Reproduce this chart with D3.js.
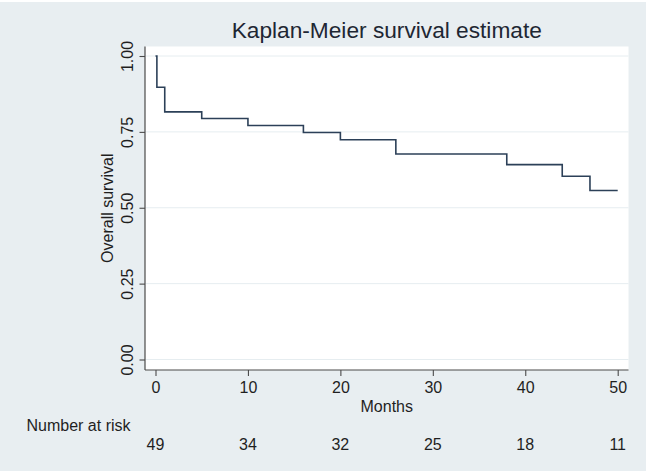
<!DOCTYPE html>
<html>
<head>
<meta charset="utf-8">
<script src="https://cdn.jsdelivr.net/npm/d3@7"></script>
<style>
  html, body { margin: 0; padding: 0; background: #ffffff; }
  svg { display: block; font-family: "Liberation Sans", Arial, Helvetica, sans-serif; }
</style>
</head>
<body>
<svg id="chart" width="650" height="475"></svg>
<script>
// ---- data ----
const eventTimes = [0, 0.15, 1, 5, 10, 16, 20, 26, 38, 44, 47];
const survival   = [1, 0.897, 0.816, 0.794, 0.771, 0.748, 0.724, 0.677, 0.642, 0.604, 0.557];
const endTime = 50;
const xTicks = [0, 10, 20, 30, 40, 50];
const yTicks = [0, 0.25, 0.5, 0.75, 1];
const atRisk = [49, 34, 32, 25, 18, 11];
const titleText = "Kaplan-Meier survival estimate";
const xLabel = "Months";
const yLabel = "Overall survival";
const riskLabel = "Number at risk";

// ---- layout ----
const svg = d3.select("#chart");
const bg = "#e8eef1";
const textColor = "#1f1f1f";
const plot = { left: 145, right: 628.5, top: 46.5, bottom: 370 };

svg.append("rect").attr("x", 0).attr("y", 2).attr("width", 646).attr("height", 469).attr("fill", bg);
svg.append("rect").attr("x", plot.left).attr("y", plot.top)
  .attr("width", plot.right - plot.left).attr("height", plot.bottom - plot.top).attr("fill", "#ffffff");

const x = d3.scaleLinear().domain([0, 50]).range([155.5, 617.7]);
const y = d3.scaleLinear().domain([0, 1]).range([359.5, 56]);

// gridlines
svg.append("g").selectAll("line").data(yTicks).join("line")
  .attr("x1", plot.left + 0.5).attr("x2", plot.right)
  .attr("y1", d => y(d)).attr("y2", d => y(d))
  .attr("stroke", "#e6edf0").attr("stroke-width", 1);

// y axis
const yAxis = svg.append("g").attr("transform", `translate(${plot.left},0)`)
  .call(d3.axisLeft(y).tickValues(yTicks).tickFormat(d3.format(".2f")).tickSize(5.5).tickSizeOuter(0));
yAxis.select(".domain").remove();
yAxis.append("line").attr("x1", 0).attr("x2", 0).attr("y1", plot.top).attr("y2", plot.bottom)
  .attr("stroke", "#4a4a4a").attr("stroke-width", 1.2);
yAxis.selectAll(".tick line").attr("stroke", "#4a4a4a").attr("stroke-width", 1.1);
yAxis.selectAll(".tick text")
  .attr("transform", "rotate(-90)")
  .attr("x", 0).attr("y", -12.5).attr("dy", 0)
  .attr("text-anchor", "middle")
  .attr("font-size", 16).attr("fill", textColor)
  .style("font-family", "'Liberation Sans', Arial, sans-serif");

// x axis
const xAxis = svg.append("g").attr("transform", `translate(0,${plot.bottom})`)
  .call(d3.axisBottom(x).tickValues(xTicks).tickFormat(d3.format("d")).tickSize(6).tickSizeOuter(0));
xAxis.select(".domain").remove();
xAxis.append("line").attr("x1", plot.left).attr("x2", plot.right).attr("y1", 0).attr("y2", 0)
  .attr("stroke", "#4a4a4a").attr("stroke-width", 1.2);
xAxis.selectAll(".tick line").attr("stroke", "#4a4a4a").attr("stroke-width", 1.1);
xAxis.selectAll(".tick text")
  .attr("y", 23).attr("dy", 0)
  .attr("font-size", 16).attr("fill", textColor)
  .style("font-family", "'Liberation Sans', Arial, sans-serif");

// KM step curve
const pts = eventTimes.map((t, i) => [t, survival[i]]);
pts.push([endTime, survival[survival.length - 1]]);
const line = d3.line().x(d => x(d[0])).y(d => y(d[1])).curve(d3.curveStepAfter);
svg.append("path").datum(pts).attr("d", line)
  .attr("fill", "none").attr("stroke", "#2c4058").attr("stroke-width", 1.6);

// title
svg.append("text").attr("x", (plot.left + plot.right) / 2).attr("y", 37.5)
  .attr("text-anchor", "middle").attr("font-size", 22.7).attr("fill", "#1e2733")
  .text(titleText);

// axis titles
svg.append("text").attr("x", (plot.left + plot.right) / 2).attr("y", 411.5)
  .attr("text-anchor", "middle").attr("font-size", 16).attr("fill", textColor).text(xLabel);
svg.append("text").attr("transform", `translate(112.5,${(plot.top + plot.bottom) / 2}) rotate(-90)`)
  .attr("text-anchor", "middle").attr("font-size", 16).attr("fill", textColor).text(yLabel);

// number at risk
svg.append("text").attr("x", 26.5).attr("y", 430.5)
  .attr("font-size", 16).attr("fill", textColor).text(riskLabel);
svg.append("g").selectAll("text").data(atRisk).join("text")
  .attr("x", (d, i) => x(xTicks[i])).attr("y", 449.5)
  .attr("text-anchor", "middle").attr("font-size", 16).attr("fill", textColor)
  .text(d => d);
</script>
</body>
</html>
